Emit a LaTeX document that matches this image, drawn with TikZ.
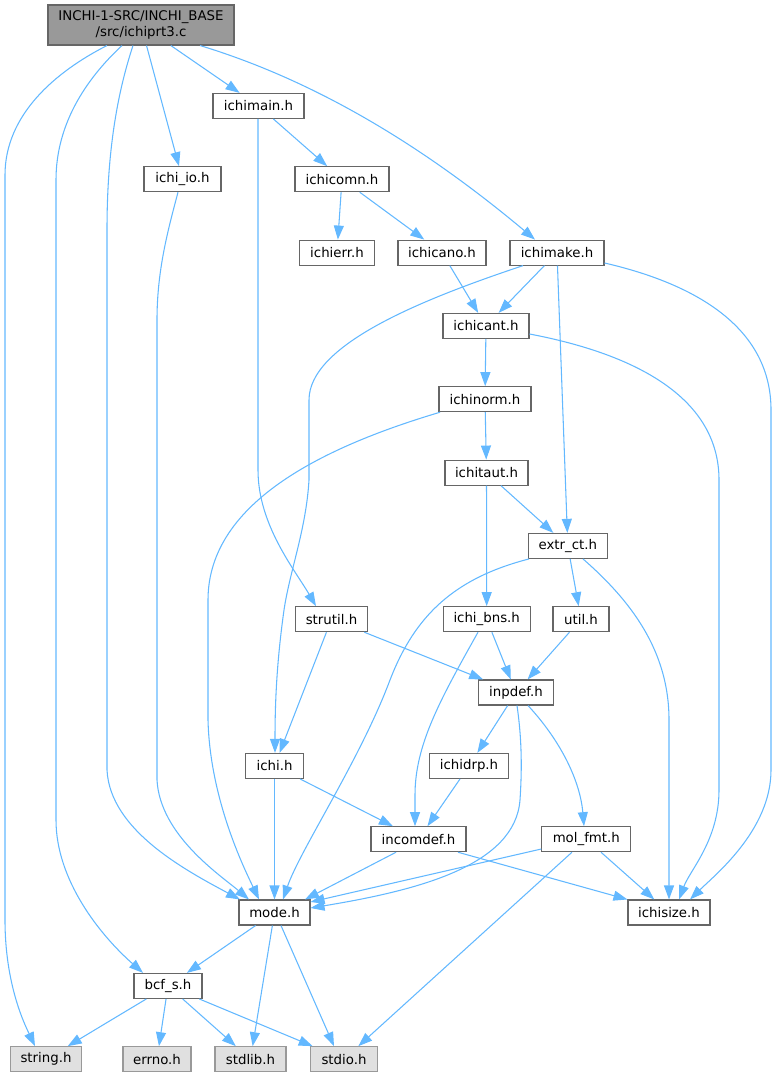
\documentclass[tikz,border=0pt]{standalone}
\usepackage{fontspec}
\setmainfont{DejaVu Sans}
\usetikzlibrary{arrows.meta,calc}
\definecolor{edgec}{HTML}{63B8FF}
\definecolor{boxc}{HTML}{666666}
\definecolor{rootfill}{HTML}{999999}
\definecolor{sysfill}{HTML}{E0E0E0}
\definecolor{sysdraw}{HTML}{999999}
\tikzset{
  hbox/.style={draw=boxc, fill=white, line width=0.8pt, inner sep=0pt,
    minimum height=25*0.75pt, font=\fontsize{10pt}{12pt}\selectfont, text=black},
  sysbox/.style={hbox, draw=sysdraw, fill=sysfill},
  rootbox/.style={hbox, fill=rootfill, minimum height=40*0.75pt, align=center},
  e/.style={draw=edgec, line width=0.8pt, -{Triangle[length=10.5pt,width=7.5pt]}}
}
\newcommand\nd[6][hbox]{\node[#1, minimum width=#5*0.75pt] (#2) at (#3,#4) {#6};}
\begin{document}
\begin{tikzpicture}[x=0.75pt,y=-0.75pt]
\useasboundingbox (0,0) rectangle (776,1077);
% nodes
\node[rootbox, minimum width=186*0.75pt] (root) at (141,25) {INCHI-1-SRC/INCHI\_BASE\\/src/ichiprt3.c};
\nd{ichimain}{258.5}{105.9}{91}{ichimain.h}
\nd{ichiio}{182.5}{179.2}{77}{ichi\_io.h}
\nd{ichicomn}{342}{179.2}{94}{ichicomn.h}
\nd{ichierr}{337}{252.6}{75}{ichierr.h}
\nd{ichicano}{442}{252.6}{88}{ichicano.h}
\nd{ichimake}{557}{252.6}{94}{ichimake.h}
\nd{ichicant}{486}{325.9}{86}{ichicant.h}
\nd{ichinorm}{485}{399.2}{92}{ichinorm.h}
\nd{ichitaut}{486.5}{472.6}{83}{ichitaut.h}
\nd{extrct}{567.8}{545.9}{79}{extr\_ct.h}
\nd{strutil}{331.5}{619.2}{72}{strutil.h}
\nd{ichibns}{486.7}{619.2}{87}{ichi\_bns.h}
\nd{util}{581}{619.2}{56}{util.h}
\nd{inpdef}{516}{692.5}{75}{inpdef.h}
\nd{ichi}{274.5}{765.9}{58}{ichi.h}
\nd{ichidrp}{469}{765.9}{79}{ichidrp.h}
\nd{incomdef}{418.5}{839.2}{95}{incomdef.h}
\nd{molfmt}{586.3}{839.2}{89}{mol\_fmt.h}
\nd{mode}{274.5}{912.5}{71}{mode.h}
\nd{ichisize}{669}{912.5}{82}{ichisize.h}
\nd{bcfs}{168}{985.9}{68}{bcf\_s.h}
\nd[sysbox]{string}{46}{1059.2}{71}{string.h}
\nd[sysbox]{errno}{157}{1059.2}{68}{errno.h}
\nd[sysbox]{stdlib}{250.5}{1059.2}{71}{stdlib.h}
\nd[sysbox]{stdio}{344}{1059.2}{67}{stdio.h}
% edges
\draw[e] (107,0 |- root.south) .. controls (55,72) and (5,115) .. (5,175) -- (5,920) .. controls (5,985) and (25,1025) .. (35,0 |- string.north);
\draw[e] (122,0 |- root.south) .. controls (85,80) and (56,125) .. (56,180) -- (56,820) .. controls (56,880) and (100,935) .. (143,0 |- bcfs.north);
\draw[e] (133,0 |- root.south) .. controls (115,100) and (107,160) .. (107,230) -- (107,770) .. controls (110,830) and (185,870) .. (240,0 |- mode.north);
\draw[e] (root) -- (ichiio);
\draw[e] (root) -- (ichimain);
\draw[e] (200,0 |- root.south) .. controls (330,85) and (440,160) .. (535,0 |- ichimake.north);
\draw[e] (ichimain) -- (ichicomn);
\draw[e] (258,0 |- ichimain.south) -- (258,470) .. controls (258,525) and (295,570) .. (316,0 |- strutil.north);
\draw[e] (178,0 |- ichiio.south) .. controls (168,230) and (157,270) .. (157,320) -- (157,780) .. controls (160,835) and (220,875) .. (249,0 |- mode.north);
\draw[e] (ichicomn) -- (ichierr);
\draw[e] (ichicomn) -- (ichicano);
\draw[e] (ichicano) -- (ichicant);
\draw[e] (ichimake) -- (ichicant);
\draw[e] (523,0 |- ichimake.south) .. controls (420,300) and (309,345) .. (309,400) -- (309,480) .. controls (306,530) and (290,570) .. (284,610) .. controls (277,660) and (275,700) .. (275,0 |- ichi.north);
\draw[e] (ichimake) -- (extrct);
\draw[e] (ichimake.east |- 0,263) .. controls (700,285) and (771,330) .. (771,410) -- (771,770) .. controls (771,830) and (715,875) .. (690,0 |- ichisize.north);
\draw[e] (ichicant) -- (ichinorm);
\draw[e] (ichicant.east |- 0,334) .. controls (640,355) and (719,400) .. (719,480) -- (719,790) .. controls (719,840) and (690,870) .. (679,0 |- ichisize.north);
\draw[e] (440,0 |- ichinorm.south) .. controls (330,445) and (208,500) .. (208,600) -- (208,720) .. controls (210,800) and (245,870) .. (259,0 |- mode.north);
\draw[e] (ichinorm) -- (ichitaut);
\draw[e] (ichitaut) -- (extrct);
\draw[e] (ichitaut) -- (ichibns);
\draw[e] (529,0 |- extrct.south) .. controls (455,578) and (415,615) .. (390,680) .. controls (360,760) and (300,850) .. (283,0 |- mode.north);
\draw[e] (extrct) -- (util);
\draw[e] (583,0 |- extrct.south) .. controls (630,600) and (669,650) .. (669,720) -- (669,0 |- ichisize.north);
\draw[e] (strutil) -- (ichi);
\draw[e] (strutil) -- (inpdef);
\draw[e] (ichibns) -- (inpdef);
\draw[e] (478,0 |- ichibns.south) .. controls (440,700) and (415,745) .. (415,795) -- (415,0 |- incomdef.north);
\draw[e] (util) -- (inpdef);
\draw[e] (inpdef) -- (ichidrp);
\draw[e] (517,0 |- inpdef.south) .. controls (522,740) and (522,770) .. (520,800) .. controls (515,865) and (420,890) .. (mode.east |- 0,908);
\draw[e] (528,0 |- inpdef.south) .. controls (560,740) and (580,780) .. (584,0 |- molfmt.north);
\draw[e] (ichi) -- (mode);
\draw[e] (ichi) -- (incomdef);
\draw[e] (ichidrp) -- (incomdef);
\draw[e] (396,0 |- incomdef.south) -- (305,0 |- mode.north);
\draw[e] (458,0 |- incomdef.south) -- (ichisize.north west);
\draw[e] (molfmt.west |- 0,849) -- (mode.east |- 0,902);
\draw[e] (molfmt) -- (ichisize);
\draw[e] (molfmt) -- (stdio);
\draw[e] (mode) -- (bcfs);
\draw[e] (mode) -- (stdlib);
\draw[e] (281,0 |- mode.south) -- (334,0 |- stdio.north);
\draw[e] (bcfs) -- (string);
\draw[e] (bcfs) -- (errno);
\draw[e] (bcfs) -- (stdlib);
\draw[e] (bcfs) -- (stdio);
\end{tikzpicture}
\end{document}
